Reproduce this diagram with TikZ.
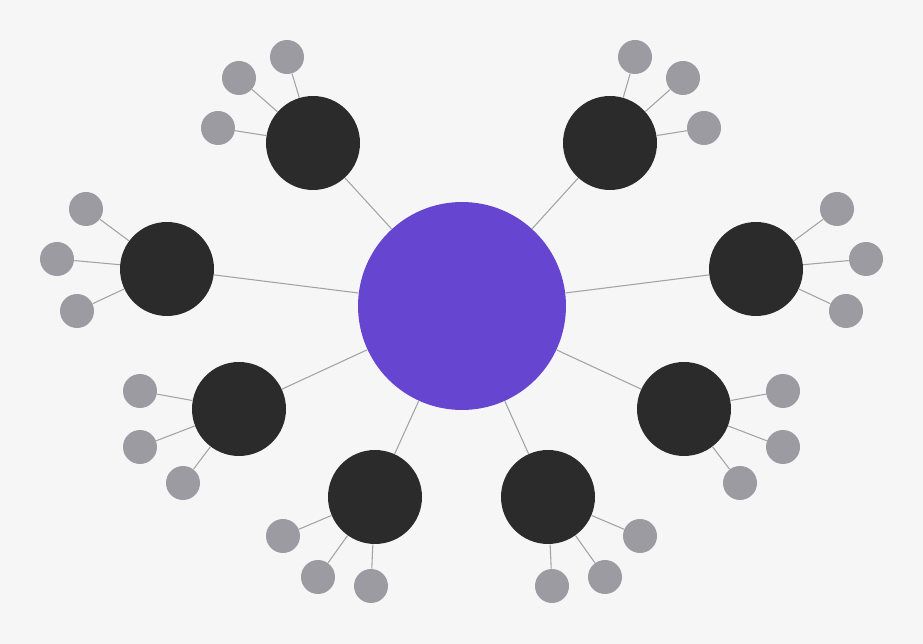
\documentclass[tikz,border=0pt]{standalone}
\definecolor{bgcol}{HTML}{F6F6F6}
\definecolor{hubcol}{HTML}{6645D1}
\definecolor{darkcol}{HTML}{2B2B2B}
\definecolor{leafcol}{HTML}{9B9BA1}
\definecolor{linecol}{HTML}{A3A3A3}
\tikzset{
	hub/.style={circle, inner sep = 0pt, draw = none, fill=hubcol, minimum size=4.16cm},
	branch/.style={circle, inner sep = 0pt, draw = none, fill=darkcol, minimum size=1.88cm},
	leaf/.style={circle, inner sep = 0pt, draw = none, fill=leafcol, minimum size=.68cm},
	link/.style={draw=linecol, line width=.6pt}
}

\begin{document}
\begin{tikzpicture}[x=0.02cm, y=-0.02cm]
	% Coordinates are in pixels, y grows downwards
	\path[use as bounding box, fill=bgcol] (0, 0) rectangle (923, 644);
	
	% Central node
	\node[hub] (H) at (462, 306) {};
	
	%% Branch nodes
	\node[branch] (TL) at (313, 143) {};
	\node[branch] (TR) at (610, 143) {};
	\node[branch] (ML) at (167, 269) {};
	\node[branch] (MR) at (756, 269) {};
	\node[branch] (LL) at (239, 409) {};
	\node[branch] (LR) at (684, 409) {};
	\node[branch] (BL) at (375, 497) {};
	\node[branch] (BR) at (548, 497) {};
	
	%% Leaves
	% Top left
	\node[leaf] (TL1) at (287, 57) {};
	\node[leaf] (TL2) at (239, 78) {};
	\node[leaf] (TL3) at (218, 128) {};
	
	% Top right
	\node[leaf] (TR1) at (635, 57) {};
	\node[leaf] (TR2) at (683, 78) {};
	\node[leaf] (TR3) at (704, 128) {};
	
	% Middle left
	\node[leaf] (ML1) at (86, 209) {};
	\node[leaf] (ML2) at (57, 259) {};
	\node[leaf] (ML3) at (77, 311) {};
	
	% Middle right
	\node[leaf] (MR1) at (837, 209) {};
	\node[leaf] (MR2) at (866, 259) {};
	\node[leaf] (MR3) at (846, 311) {};
	
	% Lower left
	\node[leaf] (LL1) at (140, 391) {};
	\node[leaf] (LL2) at (140, 447) {};
	\node[leaf] (LL3) at (183, 483) {};
	
	% Lower right
	\node[leaf] (LR1) at (783, 391) {};
	\node[leaf] (LR2) at (783, 447) {};
	\node[leaf] (LR3) at (740, 483) {};
	
	% Bottom left
	\node[leaf] (BL1) at (283, 536) {};
	\node[leaf] (BL2) at (318, 577) {};
	\node[leaf] (BL3) at (371, 586) {};
	
	% Bottom right
	\node[leaf] (BR1) at (640, 536) {};
	\node[leaf] (BR2) at (605, 577) {};
	\node[leaf] (BR3) at (552, 586) {};
	
	%% Links from the centre
	\draw[link] (H) -- (TL);
	\draw[link] (H) -- (TR);
	\draw[link] (H) -- (ML);
	\draw[link] (H) -- (MR);
	\draw[link] (H) -- (LL);
	\draw[link] (H) -- (LR);
	\draw[link] (H) -- (BL);
	\draw[link] (H) -- (BR);
	
	%% Links to the leaves
	\draw[link] (TL) -- (TL1);
	\draw[link] (TL) -- (TL2);
	\draw[link] (TL) -- (TL3);
	
	\draw[link] (TR) -- (TR1);
	\draw[link] (TR) -- (TR2);
	\draw[link] (TR) -- (TR3);
	
	\draw[link] (ML) -- (ML1);
	\draw[link] (ML) -- (ML2);
	\draw[link] (ML) -- (ML3);
	
	\draw[link] (MR) -- (MR1);
	\draw[link] (MR) -- (MR2);
	\draw[link] (MR) -- (MR3);
	
	\draw[link] (LL) -- (LL1);
	\draw[link] (LL) -- (LL2);
	\draw[link] (LL) -- (LL3);
	
	\draw[link] (LR) -- (LR1);
	\draw[link] (LR) -- (LR2);
	\draw[link] (LR) -- (LR3);
	
	\draw[link] (BL) -- (BL1);
	\draw[link] (BL) -- (BL2);
	\draw[link] (BL) -- (BL3);
	
	\draw[link] (BR) -- (BR1);
	\draw[link] (BR) -- (BR2);
	\draw[link] (BR) -- (BR3);
	
\end{tikzpicture}
\end{document}
